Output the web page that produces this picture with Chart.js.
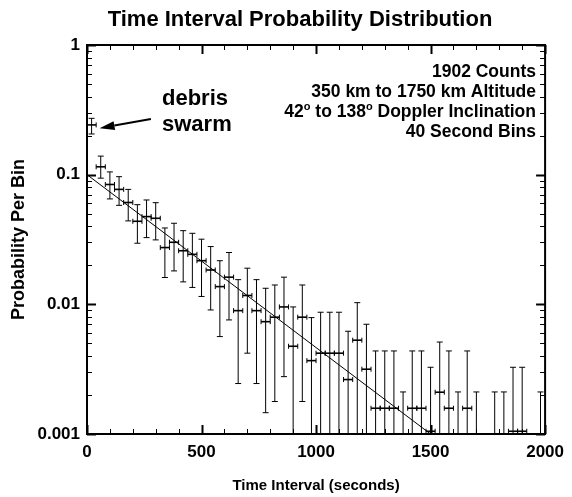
<!DOCTYPE html>
<html>
<head>
<meta charset="utf-8">
<script src="https://cdn.jsdelivr.net/npm/chart.js@4.4.1/dist/chart.umd.min.js"></script>
<style>
  html, body { margin: 0; padding: 0; background: #fff; }
  #c { display: block; }
</style>
</head>
<body>
<canvas id="c" width="572" height="497" style="width:572px;height:497px"></canvas>
<script>
// ---------------- DATA ----------------
const binHalfWidth = 20; // 40 second bins
const binCenters = [20, 60, 100, 140, 180, 220, 260, 300, 340, 380,
  420, 460, 500, 540, 580, 620, 660, 700, 740, 780,
  820, 860, 900, 940, 980, 1020, 1060, 1100, 1140, 1180,
  1220, 1260, 1300, 1340, 1380, 1420, 1460, 1500, 1540, 1580,
  1620, 1660, 1700, 1740, 1780, 1820, 1860, 1900, 1940, 1980];
const probValues = [0.242, 0.115, 0.084, 0.077, 0.061, 0.0437, 0.0475, 0.0461, 0.0274, 0.0301,
  0.0259, 0.0243, 0.0217, 0.0184, 0.0137, 0.0162, 0.00894, 0.0117, 0.00894, 0.00735,
  0.00796, 0.00955, 0.00475, 0.00796, 0.00368, 0.0042, 0.0042, 0.0042, 0.00263, 0.00529,
  0.00316, 0.00158, 0.00158, 0.00158, 0.00053, 0.00158, 0.00158, 0.00105, 0.0021, 0.00158,
  0.00053, 0.00158, 0.00053, null, 0.00053, 0.00053, 0.00105, 0.00105, null, 0.00053];
const errHigh = [0.272, 0.139, 0.105, 0.0965, 0.077, 0.0587, 0.0638, 0.0608, 0.0388, 0.0422,
  0.037, 0.0353, 0.0318, 0.0279, 0.0217, 0.0251, 0.0155, 0.019, 0.0155, 0.0133,
  0.0141, 0.0162, 0.00955, 0.0141, 0.0079, 0.00869, 0.00869, 0.00869, 0.0062, 0.0103,
  0.00702, 0.00437, 0.00437, 0.00437, 0.00211, 0.00437, 0.00437, 0.00327, 0.00512, 0.00437,
  0.00211, 0.00437, 0.00211, null, 0.00211, 0.00211, 0.00327, 0.00327, null, 0.00211];
const errLow = [0.206, 0.094, 0.065, 0.058, 0.044, 0.0296, 0.0327, 0.0314, 0.0161, 0.0181,
  0.0149, 0.0135, 0.0115, 0.00905, 0.00564, 0.00758, 0.00245, 0.0042, 0.00245, 0.00146,
  0.00178, 0.00277, 0.0005, 0.00178, 0.0005, 0.0005, 0.0005, 0.0005, 0.0005, 0.0005,
  0.0005, 0.0005, 0.0005, 0.0005, 0.0002, 0.0005, 0.0005, 0.0003, 0.0005, 0.0005,
  0.0002, 0.0005, 0.0002, null, 0.0002, 0.0002, 0.0003, 0.0003, null, 0.0002];
// exponential fit line (end points)
const fitX = [0, 1500];
const fitY = [0.1, 0.001];

const xTickValues = [0, 500, 1000, 1500, 2000];
const xTickLabels = ['0', '500', '1000', '1500', '2000'];
const yTickValues = [0.001, 0.01, 0.1, 1];
const yTickLabels = ['0.001', '0.01', '0.1', '1'];

const titleText = 'Time Interval Probability Distribution';
const xTitle = 'Time Interval (seconds)';
const yTitle = 'Probability Per Bin';
const infoLines = ['1902 Counts', '350 km to 1750 km Altitude', '42|o| to 138|o| Doppler Inclination', '40 Second Bins'];
const debrisLines = ['debris', 'swarm'];
// arrow (data coords): tail -> tip
const arrowTail = { x: 279, y: 0.269 };
const arrowTip = { x: 55, y: 0.228 };

// ---------------- STYLE ----------------
const FONT = '"Liberation Sans", Arial, Helvetica, sans-serif';

const points = binCenters.map((x, i) => ({ x: x, y: probValues[i] })).filter(p => p.y !== null);
const fitPoints = fitX.map((x, i) => ({ x: x, y: fitY[i] }));

function drawRich(ctx, text, xRight, y, size) {
  const segs = text.split('|');
  const supSize = Math.round(size * 0.62);
  const widths = segs.map((s, i) => {
    ctx.font = 'bold ' + (i % 2 ? supSize : size) + 'px ' + FONT;
    return ctx.measureText(s).width;
  });
  const total = widths.reduce((a, b) => a + b, 0);
  let x = xRight - total;
  ctx.textAlign = 'left';
  segs.forEach((s, i) => {
    ctx.font = 'bold ' + (i % 2 ? supSize : size) + 'px ' + FONT;
    ctx.fillText(s, x, i % 2 ? y - size * 0.42 : y);
    x += widths[i];
  });
}

const decor = {
  id: 'decor',
  afterDatasetsDraw(chart) {
    const ctx = chart.ctx;
    const a = chart.chartArea;
    const xs = chart.scales.x, ys = chart.scales.y;
    ctx.save();
    ctx.beginPath();
    ctx.rect(a.left, a.top, a.right - a.left, a.bottom - a.top);
    ctx.clip();
    ctx.strokeStyle = '#000';
    for (let i = 0; i < binCenters.length; i++) {
      if (probValues[i] === null) continue;
      const cx = xs.getPixelForValue(binCenters[i]);
      const cy = ys.getPixelForValue(probValues[i]);
      const yt = ys.getPixelForValue(errHigh[i]);
      const yb = ys.getPixelForValue(errLow[i]);
      const xl = xs.getPixelForValue(binCenters[i] - binHalfWidth);
      const xr = xs.getPixelForValue(binCenters[i] + binHalfWidth);
      ctx.lineWidth = 1;
      ctx.beginPath();
      ctx.moveTo(cx, yt); ctx.lineTo(cx, yb);
      ctx.moveTo(cx - 3, yt); ctx.lineTo(cx + 3, yt);
      ctx.moveTo(cx - 3, yb); ctx.lineTo(cx + 3, yb);
      ctx.stroke();
      ctx.lineWidth = 1.6;
      ctx.beginPath();
      ctx.moveTo(xl, cy); ctx.lineTo(xr, cy);
      ctx.stroke();
      ctx.lineWidth = 1;
      ctx.beginPath();
      ctx.moveTo(xl, cy - 2.5); ctx.lineTo(xl, cy + 2.5);
      ctx.moveTo(xr, cy - 2.5); ctx.lineTo(xr, cy + 2.5);
      ctx.stroke();
    }
    ctx.restore();

    // ticks inward on all 4 sides
    ctx.save();
    ctx.strokeStyle = '#000';
    const yMaj = [], yMin = [];
    for (let e = -3; e <= 0; e++) {
      yMaj.push(Math.pow(10, e));
      if (e < 0) for (let m = 2; m <= 9; m++) yMin.push(m * Math.pow(10, e));
    }
    const drawY = (vals, len, lw) => {
      ctx.lineWidth = lw;
      ctx.beginPath();
      vals.forEach(v => {
        const p = Math.round(ys.getPixelForValue(v)) + 0.5;
        ctx.moveTo(a.left, p); ctx.lineTo(a.left + len, p);
        ctx.moveTo(a.right, p); ctx.lineTo(a.right - len, p);
      });
      ctx.stroke();
    };
    drawY(yMin, 5, 1);
    drawY(yMaj, 9, 2);
    const xMaj = [], xMin = [];
    for (let v = 0; v <= 2000; v += 100) (v % 500 === 0 ? xMaj : xMin).push(v);
    const drawX = (vals, len, lw) => {
      ctx.lineWidth = lw;
      ctx.beginPath();
      vals.forEach(v => {
        const p = Math.round(xs.getPixelForValue(v)) + 0.5;
        ctx.moveTo(p, a.bottom); ctx.lineTo(p, a.bottom - len);
        ctx.moveTo(p, a.top); ctx.lineTo(p, a.top + len);
      });
      ctx.stroke();
    };
    drawX(xMin, 5, 1);
    drawX(xMaj, 9, 2);
    ctx.lineWidth = 2;
    ctx.strokeRect(a.left, a.top, a.right - a.left, a.bottom - a.top);

    // arrow
    const tx = xs.getPixelForValue(arrowTail.x), ty = ys.getPixelForValue(arrowTail.y);
    const hx = xs.getPixelForValue(arrowTip.x), hy = ys.getPixelForValue(arrowTip.y);
    const ang = Math.atan2(hy - ty, hx - tx);
    const headLen = 15, headW = 4.5;
    const bx = hx - headLen * Math.cos(ang), by = hy - headLen * Math.sin(ang);
    ctx.lineWidth = 2;
    ctx.beginPath();
    ctx.moveTo(tx, ty); ctx.lineTo(bx, by);
    ctx.stroke();
    ctx.fillStyle = '#000';
    ctx.beginPath();
    ctx.moveTo(hx, hy);
    ctx.lineTo(bx + headW * Math.sin(ang), by - headW * Math.cos(ang));
    ctx.lineTo(bx - headW * Math.sin(ang), by + headW * Math.cos(ang));
    ctx.closePath();
    ctx.fill();

    // texts
    ctx.fillStyle = '#000';
    ctx.textBaseline = 'alphabetic';
    ctx.font = 'bold 22px ' + FONT;
    ctx.textAlign = 'center';
    ctx.fillText(titleText, 300, 26);

    ctx.font = 'bold 15px ' + FONT;
    ctx.fillText(xTitle, (a.left + a.right) / 2, 490);
    ctx.save();
    ctx.font = 'bold 18px ' + FONT;
    ctx.translate(24, (a.top + a.bottom) / 2);
    ctx.rotate(-Math.PI / 2);
    ctx.fillText(yTitle, 0, 0);
    ctx.restore();

    ctx.textAlign = 'left';
    ctx.font = 'bold 22px ' + FONT;
    ctx.fillText(debrisLines[0], 162, 105);
    ctx.fillText(debrisLines[1], 162, 131);

    infoLines.forEach((t, i) => drawRich(ctx, t, 536, 77 + i * 20, 17.5));
    ctx.restore();
  }
};

new Chart(document.getElementById('c'), {
  type: 'scatter',
  data: {
    datasets: [
      { label: 'data', data: points, pointRadius: 0, showLine: false, borderColor: '#000', backgroundColor: '#000' },
      { label: 'fit', type: 'line', data: fitPoints, borderColor: '#000', borderWidth: 1, pointRadius: 0, fill: false, tension: 0 }
    ]
  },
  options: {
    responsive: false,
    animation: false,
    devicePixelRatio: 1,
    layout: { padding: { top: 45, right: 23, left: 0, bottom: 0 } },
    plugins: { legend: { display: false }, tooltip: { enabled: false }, title: { display: false } },
    scales: {
      x: {
        type: 'linear', min: 0, max: 2000,
        afterBuildTicks: s => { s.ticks = xTickValues.map(v => ({ value: v })); },
        ticks: {
          color: '#000', padding: 8, maxRotation: 0, autoSkip: false,
          font: { family: FONT, size: 17, weight: 'bold' },
          callback: (v) => { const i = xTickValues.indexOf(v); return i >= 0 ? xTickLabels[i] : ''; }
        },
        grid: { display: false, drawTicks: false },
        border: { display: false },
        afterFit: s => { s.height = 63; }
      },
      y: {
        type: 'logarithmic', min: 0.001, max: 1,
        afterBuildTicks: s => { s.ticks = yTickValues.map(v => ({ value: v })); },
        ticks: {
          color: '#000', padding: 7, autoSkip: false,
          font: { family: FONT, size: 17, weight: 'bold' },
          callback: (v) => { const i = yTickValues.findIndex(t => Math.abs(t - v) / t < 1e-6); return i >= 0 ? yTickLabels[i] : ''; }
        },
        grid: { display: false, drawTicks: false },
        border: { display: false },
        afterFit: s => { s.width = 87; }
      }
    }
  },
  plugins: [decor]
});
</script>
</body>
</html>
